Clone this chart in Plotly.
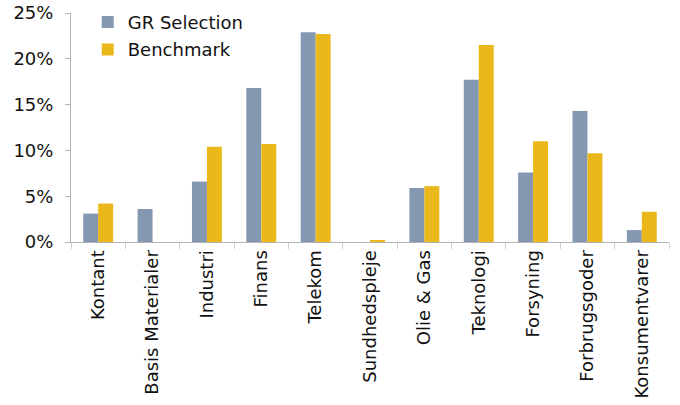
import plotly.graph_objects as go

categories = ["Kontant", "Basis Materialer", "Industri", "Finans", "Telekom",
              "Sundhedspleje", "Olie & Gas", "Teknologi", "Forsyning",
              "Forbrugsgoder", "Konsumentvarer"]
gr_selection = [3.1, 3.6, 6.6, 16.8, 22.9, 0.0, 5.9, 17.7, 7.6, 14.3, 1.3]
benchmark = [4.2, 0.0, 10.4, 10.7, 22.7, 0.2, 6.1, 21.5, 11.0, 9.7, 3.3]
y_ticks = [0, 5, 10, 15, 20, 25]
y_tick_labels = ["0%", "5%", "10%", "15%", "20%", "25%"]

FONT = "DejaVu Sans"
FS = 18

fig = go.Figure()
fig.add_trace(go.Bar(
    x=categories, y=gr_selection, name="GR Selection", legendgroup="a",
    marker=dict(color="#8598B2", line=dict(width=0)),
))
fig.add_trace(go.Bar(
    x=categories, y=benchmark, name="Benchmark", legendgroup="b",
    marker=dict(color="#EAB81B", line=dict(width=0)),
))

fig.update_layout(
    width=680, height=405,
    margin=dict(l=71, r=11, t=13, b=163, pad=0, autoexpand=False),
    paper_bgcolor="white", plot_bgcolor="white",
    font=dict(family=FONT, size=FS, color="#111111"),
    barmode="group", bargap=0.45, bargroupgap=0,
    showlegend=True,
    legend=dict(
        x=0.028, y=1.04, xanchor="left", yanchor="top",
        bgcolor="rgba(0,0,0,0)", font=dict(family=FONT, size=FS, color="#111111"),
        traceorder="grouped", tracegroupgap=1,
    ),
    xaxis=dict(
        type="category", range=[-0.5, len(categories) - 0.5], automargin=False,
        showline=True, linecolor="#B5B5B5", linewidth=1,
        ticks="outside", tickson="boundaries", ticklen=6, tickcolor="#CFCFCF",
        tickangle=-90, tickfont=dict(family=FONT, size=FS, color="#111111"),
        showgrid=False, zeroline=False,
    ),
    yaxis=dict(
        range=[0, 25], tickmode="array", tickvals=y_ticks, ticktext=y_tick_labels,
        automargin=False, ticklabelstandoff=8,
        showline=True, linecolor="#B5B5B5", linewidth=1,
        ticks="outside", ticklen=5, tickcolor="#B5B5B5",
        tickfont=dict(family=FONT, size=FS, color="#111111"),
        showgrid=False, zeroline=False,
    ),
)

fig.write_html("out.html")
